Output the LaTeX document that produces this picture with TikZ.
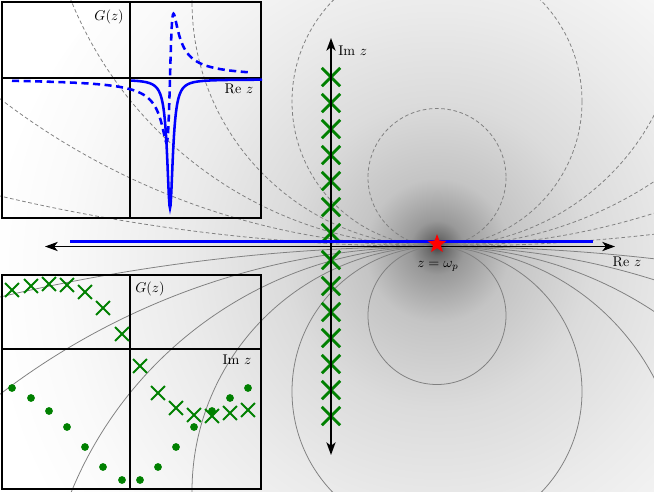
\documentclass[tikz,border=0pt]{standalone}
\usetikzlibrary{shapes.geometric,shapes.misc,arrows.meta}
\definecolor{dgreen}{rgb}{0,0.5,0}
\pgfdeclareradialshading{glow}{\pgfpoint{0bp}{3.35bp}}{color(0bp)=(black!75); color(0.5bp)=(black!58); color(1.5bp)=(black!40); color(4bp)=(black!23); color(8.5bp)=(black!14); color(14bp)=(black!8); color(21bp)=(black!2); color(25bp)=(white); color(50bp)=(white)}
\tikzset{
  contdash/.style={gray, line width=0.55pt, dash pattern=on 2.6pt off 1.8pt},
  contsolid/.style={gray, line width=0.55pt},
  frame/.style={black, line width=1.6pt},
  axisline/.style={black, line width=1.3pt, {Stealth[length=9pt,width=6.5pt,inset=2.5pt]}-{Stealth[length=9pt,width=6.5pt,inset=2.5pt]}},
  bigcross/.style={cross out, draw=dgreen, line width=2pt, minimum size=11pt, inner sep=0pt},
  smallcross/.style={cross out, draw=dgreen, line width=1.4pt, minimum size=8.5pt, inner sep=0pt},
  gdot/.style={circle, fill=dgreen, minimum size=5.5pt, inner sep=0pt},
  bluecurve/.style={blue, line width=1.8pt},
  bluedash/.style={blue, line width=1.8pt, dash pattern=on 5pt off 3.2pt},
  lbl/.style={inner sep=0pt, font=\normalsize}
}
\begin{document}
\begin{tikzpicture}[x=0.708pt,y=-0.708pt]
\useasboundingbox (0,0) rectangle (654,491);
\begin{scope}
  \clip (0,0) rectangle (654,491);
  \shade[shading=glow] (437,306) circle [radius=450];
  \foreach \r in {69,145,245,395,720,1900} {
    \draw[contdash] (437,{246.5-\r}) circle [radius=\r];
    \draw[contsolid] (437,{246.5+\r}) circle [radius=\r];
  }
\end{scope}

% ---- top inset ----
\draw[frame] (2,2) rectangle (261,218);
\draw[frame] (130,2) -- (130,218);
\draw[frame] (2,78) -- (261,78);
\draw[bluecurve] plot[domain=131:262, samples=263] (\x, {79.5 + 15.75/(((\x-170)/10)*((\x-170)/10) + 0.1225)});
\draw[bluedash] plot[domain=12:248, samples=473] (\x, {78 - 45*((\x-170)/10)/(((\x-170)/10)*((\x-170)/10) + 0.1225)});
\node[lbl, anchor=east] (g1) at (124,17) {$G(z)$};
\node[lbl] (re1) at (239,89) {Re $z$};

% ---- bottom inset ----
\draw[frame] (2,275) rectangle (261,489);
\draw[frame] (130,275) -- (130,489);
\draw[frame] (2,349) -- (261,349);
\foreach \p [count=\i] in {(12,290),(31,286),(49,284),(67,285),(85,292),(103,308),(122,334),
                          (140,366),(158,393),(176,408),(194,415),(212,416),(230,413),(248,410)}
  \node[smallcross] (sc\i) at \p {};
\foreach \p [count=\i] in {(12,388),(31,398),(49,411),(67,427),(85,447),(103,467),(122,480),
                          (140,480),(158,467),(176,447),(194,427),(212,411),(230,398),(248,388)}
  \node[gdot] (sd\i) at \p {};
\node[lbl] (g2) at (150,289) {$G(z)$};
\node[lbl] (im2) at (237,360) {Im $z$};

% ---- main plane ----
\coordinate (reL) at (45,246.5);
\coordinate (reR) at (615,246.5);
\coordinate (imT) at (331,38);
\coordinate (imB) at (331,455);
\coordinate (bL) at (70,241.5);
\coordinate (bR) at (593,241.5);
\foreach \k in {0,...,6} {
  \node[bigcross] (cu\k) at (331,{233-26*\k}) {};
  \node[bigcross] (cd\k) at (331,{260+26*\k}) {};
}
\draw[axisline] (reL) -- (reR);
\draw[axisline] (imB) -- (imT);
\draw[blue, line width=1.9pt] (bL) -- (bR);
\node[star, star points=5, star point ratio=2.4, fill=red, minimum size=14pt, inner sep=0pt] (wp) at (437,244) {};
\node[lbl] (wplbl) at (438,266) {$z=\omega_p$};
\node[lbl, anchor=west] (imlbl) at (338,51) {Im $z$};
\node[lbl] (relbl) at (627,262) {Re $z$};
\end{tikzpicture}
\end{document}
